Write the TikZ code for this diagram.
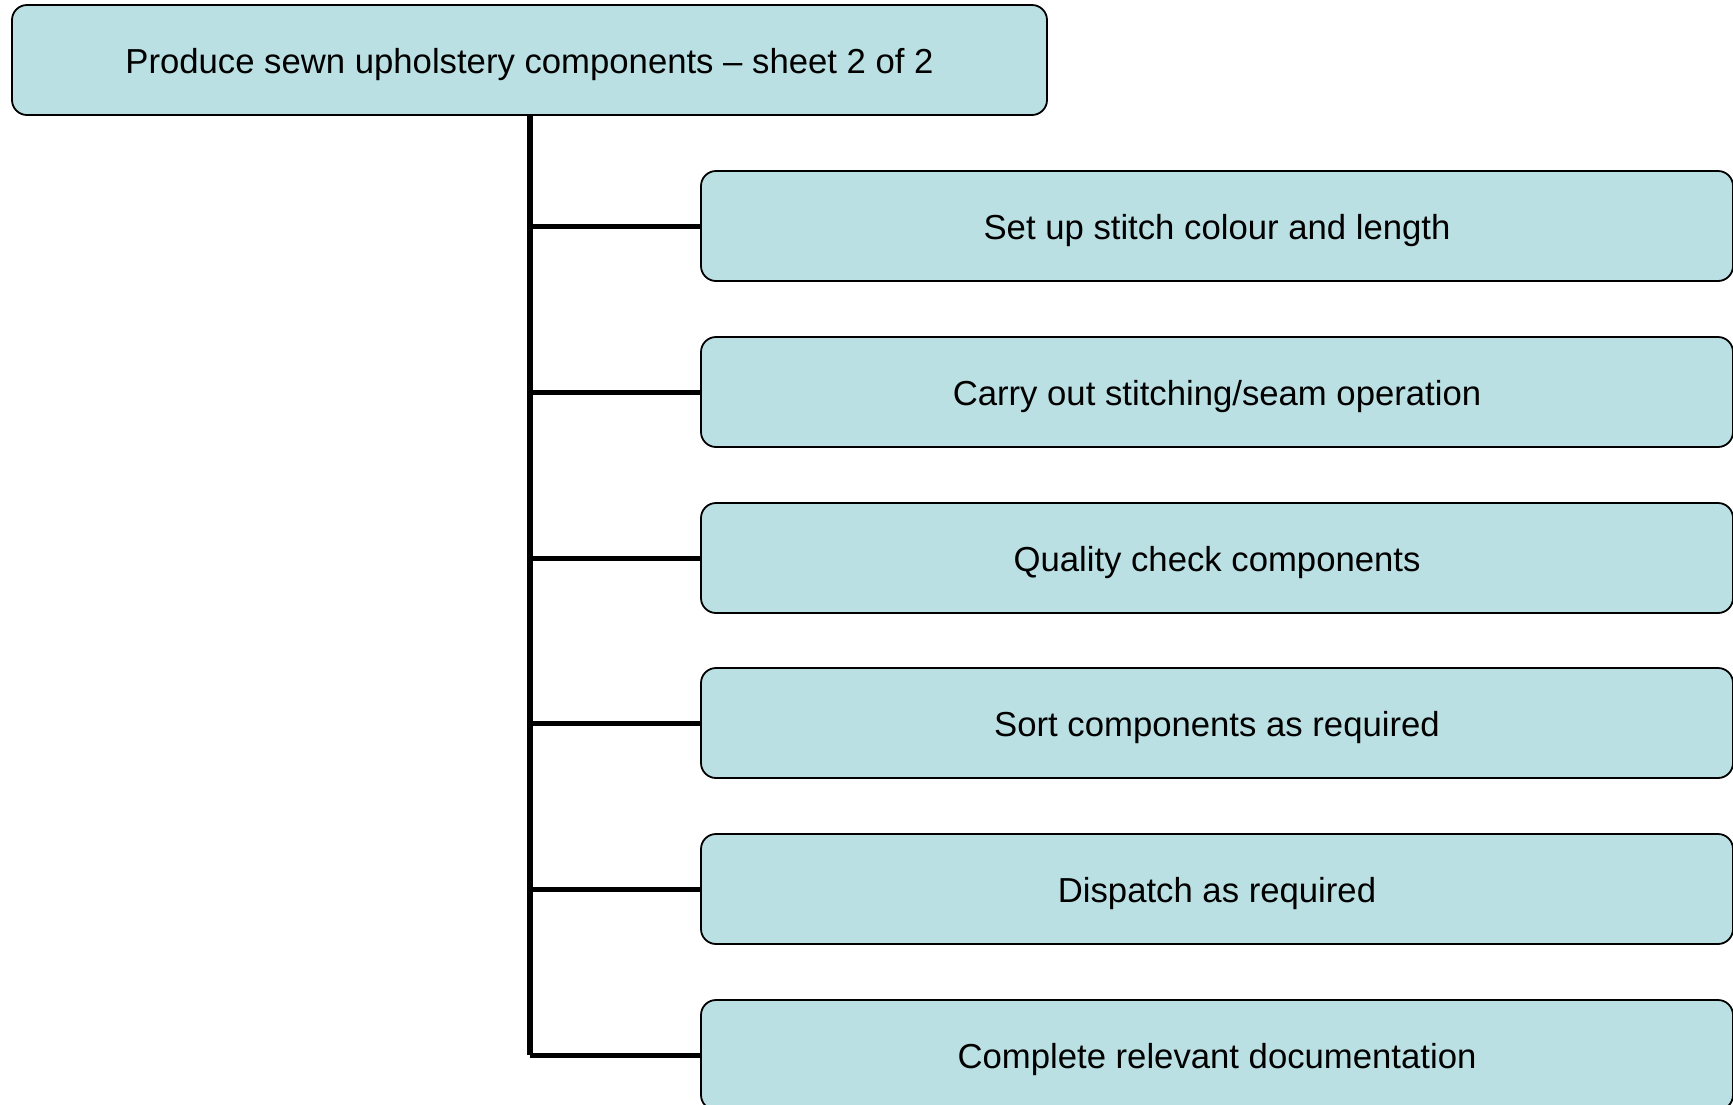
\documentclass[tikz,border=0pt]{standalone}
\usepackage{fontspec}
\setmainfont{Liberation Sans}
\definecolor{boxblue}{RGB}{186,224,227}
\tikzset{
  stepbox/.style={draw, fill=boxblue, line width=1.8pt, rounded corners=15pt,
    minimum width=1032pt, minimum height=110pt, inner sep=0pt,
    text height=26pt, text depth=0pt,
    font=\fontsize{34.7}{40}\selectfont},
  headbox/.style={stepbox, minimum width=1035pt},
  branch/.style={line width=5pt}
}
\begin{document}
\begin{tikzpicture}[x=1pt,y=-1pt]
\useasboundingbox (0,0) rectangle (1733,1104);

\node [headbox] (head) at (529.5,60) {Produce sewn upholstery components -- sheet 2 of 2};

\node [stepbox] (s1) at (1217,226) {Set up stitch colour and length};
\node [stepbox] (s2) at (1217,392) {Carry out stitching/seam operation};
\node [stepbox] (s3) at (1217,558) {Quality check components};
\node [stepbox] (s4) at (1217,723) {Sort components as required};
\node [stepbox] (s5) at (1217,889) {Dispatch as required};
\node [stepbox] (s6) at (1217,1055) {Complete relevant documentation};

\draw [branch, line width=6pt] (head.south) -- (head.south |- s6.west);
\foreach \s in {s1,s2,s3,s4,s5,s6}
  \draw [branch] (head.south |- \s.west) -- (\s.west);
\end{tikzpicture}
\end{document}
